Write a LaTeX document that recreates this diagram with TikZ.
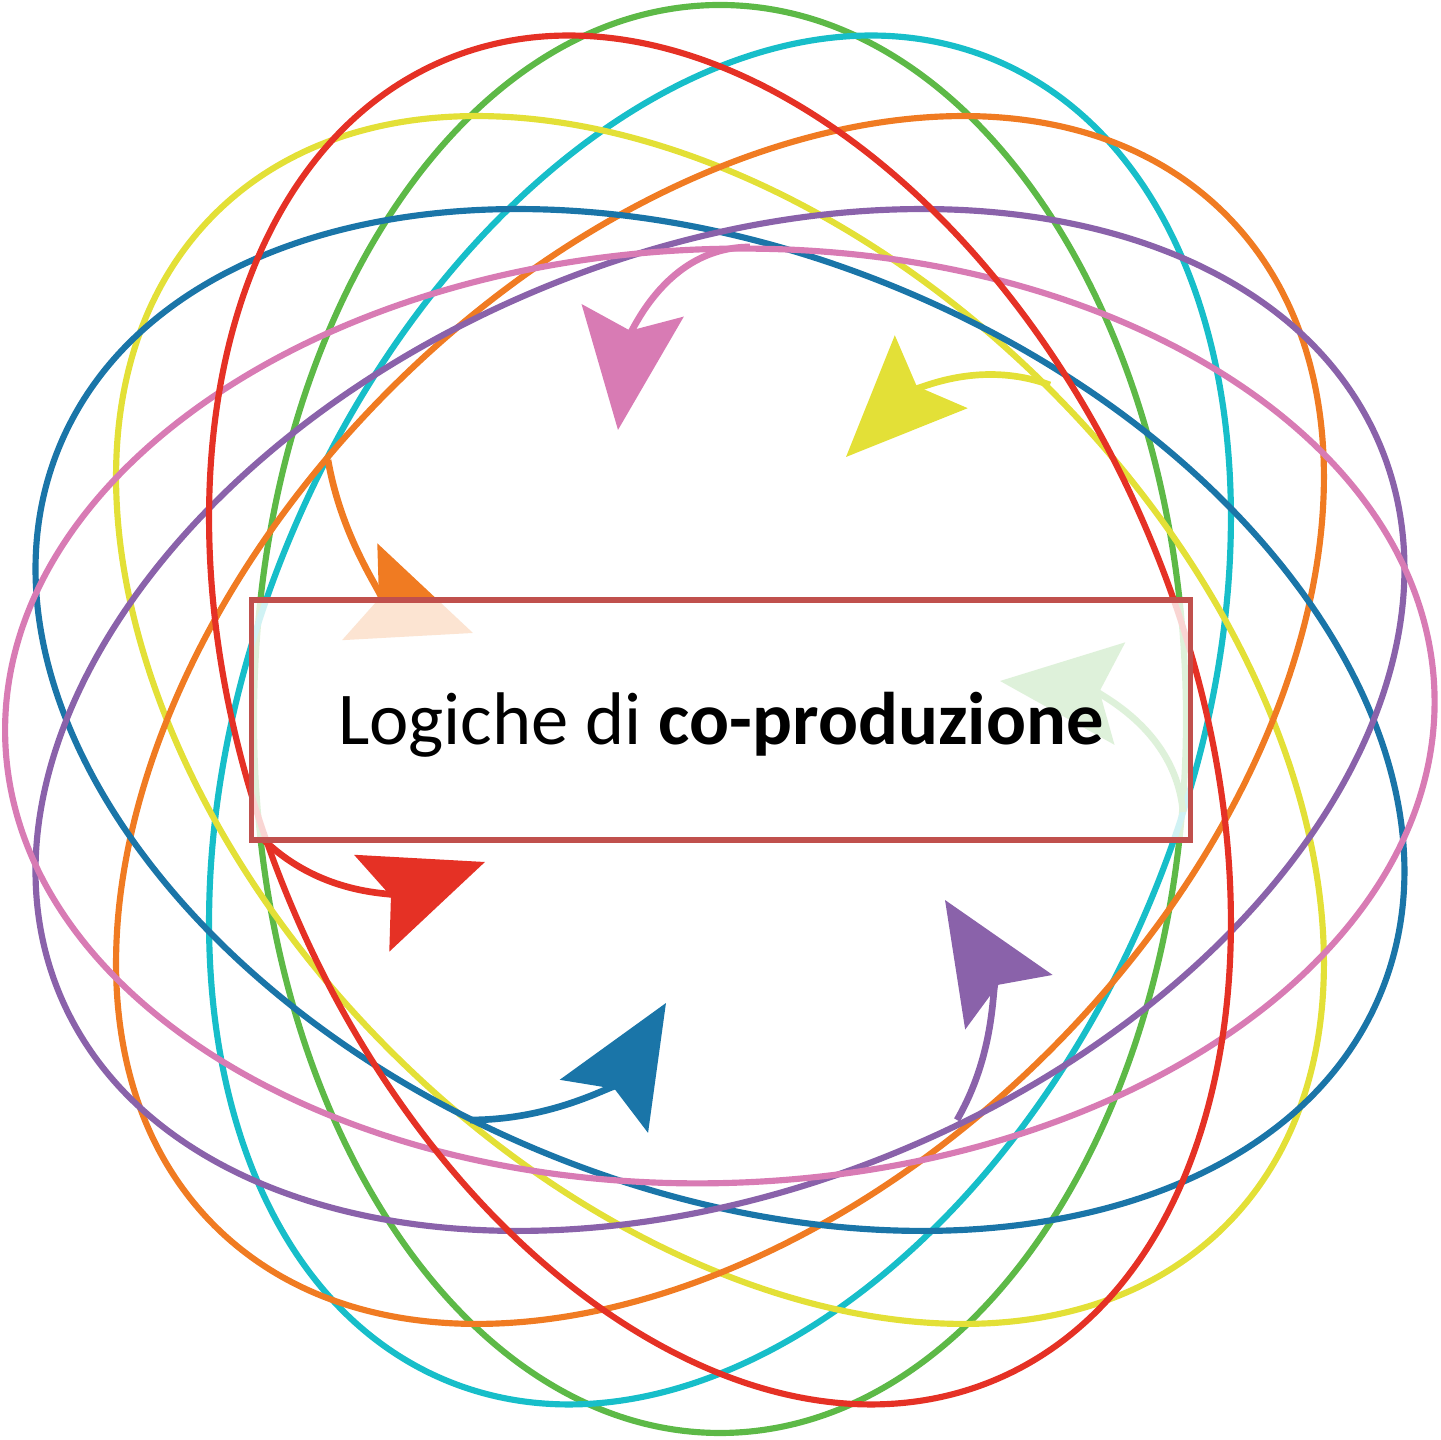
\documentclass[tikz,border=0pt]{standalone}
\usepackage{fontspec}
\setmainfont{Carlito}
\usetikzlibrary{arrows.meta}
\definecolor{ringgreen}{HTML}{5DB947}
\definecolor{ringcyan}{HTML}{17BEC9}
\definecolor{ringyellow}{HTML}{E3E037}
\definecolor{ringorange}{HTML}{F07B22}
\definecolor{ringblue}{HTML}{1A75A8}
\definecolor{ringpurple}{HTML}{8A62AA}
\definecolor{ringpink}{HTML}{D87BB4}
\definecolor{ringred}{HTML}{E53125}
\definecolor{boxred}{HTML}{C0504D}

\begin{document}
\begin{tikzpicture}[x=0.01cm,y=0.01cm]
\tikzset{RingStyle/.style = {draw=#1, line width=1.75pt},
         ArrowStyle/.style = {draw=#1, line width=1.9pt,
                              -{Stealth[length=1.2cm, width=1.02cm, inset=0.2cm, fill=#1]}},
         BoxStyle/.style = {draw=boxred, line width=1.5pt, fill=white,
                            fill opacity=0.8, text opacity=1,
                            minimum width=9.38cm, minimum height=2.4cm,
                            text height=0.7cm, text depth=0.2cm,
                            font=\fontsize{21.2pt}{26pt}\selectfont}}
\useasboundingbox (-720,-720) rectangle (721,720);
% the eight rings
\draw[RingStyle=ringgreen]  (0,1) ellipse [x radius=466, y radius=714];
\draw[RingStyle=ringcyan,   rotate=67.5]  (0,0) ellipse [x radius=715, y radius=467];
\draw[RingStyle=ringyellow, rotate=-45]   (0,0) ellipse [x radius=715, y radius=467];
\draw[RingStyle=ringorange, rotate=45]    (0,0) ellipse [x radius=715, y radius=467];
\draw[RingStyle=ringblue,   rotate=-22.5] (0,0) ellipse [x radius=715, y radius=467];
\draw[RingStyle=ringpurple, rotate=22.5]  (0,0) ellipse [x radius=715, y radius=467];
\draw[RingStyle=ringpink,   rotate=2]     (0,4) ellipse [x radius=715, y radius=467];
\draw[RingStyle=ringred,    rotate=-67.5] (0,0) ellipse [x radius=715, y radius=467];
% arrows
\coordinate (pinkS) at (30,473);    \coordinate (pinkT) at (-102,290);
\coordinate (yellowS) at (330,335); \coordinate (yellowT) at (126,263);
\coordinate (orangeS) at (-392,260);\coordinate (orangeT) at (-247,87);
\coordinate (greenS) at (463,-92);  \coordinate (greenT) at (280,39);
\coordinate (redS) at (-458,-118);  \coordinate (redT) at (-235,-142);
\coordinate (blueS) at (-250,-400); \coordinate (blueT) at (-54,-283);
\coordinate (purpleS) at (237,-400);\coordinate (purpleT) at (225,-180);
\draw[ArrowStyle=ringpink]   (pinkS) to[out=180,in=83] (pinkT);
\draw[ArrowStyle=ringyellow] (yellowS) to[out=160,in=45] (yellowT);
\draw[ArrowStyle=ringorange] (orangeS) to[out=-80,in=160] (orangeT);
\draw[ArrowStyle=ringgreen]  (greenS) to[out=95,in=-6] (greenT);
\draw[ArrowStyle=ringred]    (redS) to[out=-45,in=200] (redT);
\draw[ArrowStyle=ringblue]   (blueS) to[out=0,in=239] (blueT);
\draw[ArrowStyle=ringpurple] (purpleS) to[out=60,in=302] (purpleT);
% title box
\node[BoxStyle] (box) at (1,0) {Logiche di \textbf{co-produzione}};
\end{tikzpicture}
\end{document}
